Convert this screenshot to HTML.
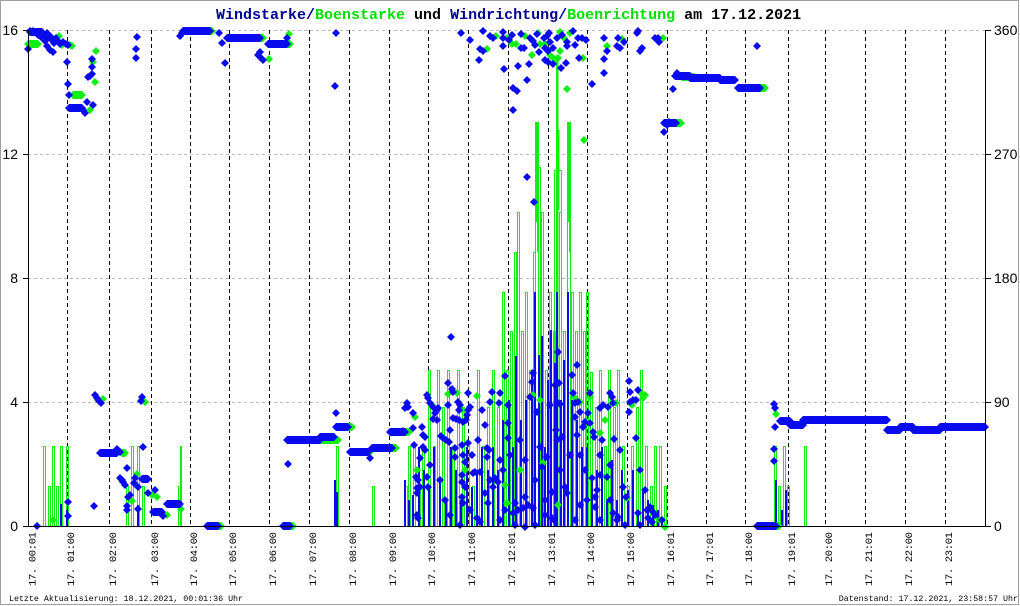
<!DOCTYPE html>
<html><head><meta charset="utf-8"><style>
html,body{margin:0;padding:0;background:#fff;}
svg{display:block;}
.m{font-family:"Liberation Mono",monospace;}
.s{font-family:"Liberation Sans",sans-serif;}
</style></head><body>
<svg width="1020" height="606" viewBox="0 0 1020 606" xmlns="http://www.w3.org/2000/svg">
<defs>
<marker id="mb" viewBox="-5 -5 10 10" refX="0" refY="0" markerWidth="10" markerHeight="10" markerUnits="userSpaceOnUse" overflow="visible"><path d="M-4 0L0-4 4 0 0 4z" fill="#0a0aee"/></marker>
<marker id="mg" viewBox="-5 -5 10 10" refX="0" refY="0" markerWidth="10" markerHeight="10" markerUnits="userSpaceOnUse" overflow="visible"><path d="M-4 0L0-4 4 0 0 4z" fill="#11ee11"/></marker>
</defs>
<rect x="0" y="0" width="1020" height="606" fill="#fff"/>
<rect x="0.5" y="0.5" width="1018" height="604" fill="none" stroke="#a0a0a0"/>

<text class="m" x="216" y="19" font-size="15" font-weight="bold"><tspan fill="#000090">Windstarke/</tspan><tspan fill="#00e000">Boenstarke</tspan><tspan fill="#000"> und </tspan><tspan fill="#000090">Windrichtung/</tspan><tspan fill="#00e000">Boenrichtung</tspan><tspan fill="#000"> am 17.12.2021</tspan></text>

<path d="M28 30.5H985M28 154.5H985M28 278.5H985M28 402.5H985" stroke="#bbb" stroke-dasharray="3 3" fill="none"/>
<path d="M67.5 30V526M109.5 30V526M151.5 30V526M190.5 30V526M229.5 30V526M269.5 30V526M309.5 30V526M349.5 30V526M389.5 30V526M428.5 30V526M468.5 30V526M508.5 30V526M548.5 30V526M587.5 30V526M627.5 30V526M667.5 30V526M706.5 30V526M745.5 30V526M788.5 30V526M825.5 30V526M865.5 30V526M905.5 30V526M945.5 30V526" stroke="#000" stroke-dasharray="4 3" fill="none"/>

<!-- green gust bars (outlined) -->
<path fill="none" stroke="#11ee11" stroke-width="1" d="
M43.5 526V446.5H45.5V526M48.5 526V486.5H50.5V526M52.5 526V446.5H54.5V526M56.5 526V486.5H58.5V526M60.5 526V446.5H62.5V526M66.5 526V446.5H68.5V526
M126.5 526V486.5H128.5V526M131.5 526V446.5H133.5V526M137.5 526V446.5H139.5V526M142.5 526V486.5H144.5V526M178.5 526V486.5H180.5V526M180.5 526V446.5H181.5V526
M336.5 526V446.5H338.5V526M372.5 526V486.5H374.5V526M408.5 526V446.5H410.5V526
M405.5 526V486.5H407.5V526M413.5 526V446.5H415.5V526M418.5 526V486.5H420.5V526M422.5 526V446.5H424.5V526M428.5 526V370.5H430.5V526M433.5 526V446.5H435.5V526M437.5 526V370.5H439.5V526M442.5 526V407.5H444.5V526M447.5 526V370.5H449.5V526M452.5 526V446.5H454.5V526M457.5 526V370.5H459.5V526M462.5 526V407.5H464.5V526M467.5 526V446.5H469.5V526M472.5 526V486.5H474.5V526M477.5 526V370.5H479.5V526M482.5 526V446.5H484.5V526M487.5 526V407.5H489.5V526M492.5 526V370.5H494.5V526M497.5 526V407.5H499.5V526
M502.5 526V292.5H504.5V526M506.5 526V370.5H508.5V526M510.5 526V331.5H512.5V526M514.5 526V252.5H516.5V526M517.5 526V212.5H519.5V526M521.5 526V331.5H523.5V526M525.5 526V292.5H527.5V526M529.5 526V370.5H531.5V526M533.5 526V252.5H535.5V526M535.5 526V122.5H538.5V526M538.5 526V167.5H540.5V526M541.5 526V212.5H543.5V526M545.5 526V370.5H547.5V526M549.5 526V292.5H551.5V526M553.5 526V331.5H555.5V526M554.5 526V170.5H561.5V526M559.5 526V212.5H561.5V526M563.5 526V331.5H565.5V526M567.5 526V122.5H570.5V526M571.5 526V292.5H573.5V526M575.5 526V331.5H577.5V526M579.5 526V292.5H581.5V526M583.5 526V331.5H585.5V526M586.5 526V292.5H588.5V526
M590.5 526V372.5H592.5V526M595.5 526V407.5H597.5V526M599.5 526V370.5H601.5V526M604.5 526V446.5H606.5V526M608.5 526V370.5H610.5V526M613.5 526V407.5H615.5V526M617.5 526V370.5H619.5V526M622.5 526V446.5H624.5V526M627.5 526V486.5H629.5V526M631.5 526V446.5H633.5V526M636.5 526V407.5H638.5V526M640.5 526V370.5H642.5V526M645.5 526V446.5H647.5V526M650.5 526V486.5H652.5V526M654.5 526V446.5H656.5V526M659.5 526V446.5H661.5V526M664.5 526V486.5H666.5V526
M774.5 526V446.5H776.5V526M778.5 526V486.5H780.5V526M783.5 526V446.5H785.5V526M787.5 526V486.5H789.5V526M804.5 526V446.5H806.5V526"/>
<path fill="#11ee11" d="M556 60h2.5v466h-2.5zM536 122h2v100h-2zM568 122h2v100h-2zM537 167h2v85h-2zM569 167h2v85h-2zM558 130h1.5v80h-1.5z"/>

<!-- blue wind bars -->
<path fill="none" stroke="#0a0aee" stroke-width="2" d="
M61 526V504M67 526V510M138 526V505M335 526V480M337 526V492M776 526V480M782 526V510M786 526V490
M405 526V480M409 526V500M413 526V495M419 526V447M424 526V470M429 526V487M434 526V447M440 526V480M446 526V500M451 526V447M456 526V470M461 526V500M467 526V447M472 526V487M477 526V470M482 526V447M488 526V470M493 526V447M498 526V470M503 526V420M509 526V400M513 526V447M516 526V356M521 526V420M526 526V400M532 526V370M535 526V292M539 526V355M542 526V336M545 526V447M548 526V380M551 526V330M555 526V363M557 526V292M561 526V400M564 526V360M568 526V292M572 526V400M577 526V420M582 526V447M587 526V447M592 526V480M597 526V470M602 526V447M607 526V500M612 526V460M617 526V500M622 526V470M628 526V490M633 526V470M638 526V510M643 526V490M648 526V500M653 526V505M658 526V510M662 526V518"/>

<!-- green direction runs -->
<path fill="#11ee11" d="M24 44l4-4H38l4 4-4 4H28zM69 95l4-4H82l4 4-4 4H73zM118 453l4-4H125l4 4-4 4H122zM205 526l4-4H221l4 4-4 4H209zM283 526l4-4H293l4 4-4 4H287zM286 440l4-4H338l4 4-4 4H290zM338 427l4-4H352l4 4-4 4H342zM352 452l4-4H370l4 4-4 4H356zM374 448l4-4H396l4 4-4 4H378zM392 432l4-4H409l4 4-4 4H396zM666 123l4-4H681l4 4-4 4H670zM678 77l4-4H694l4 4-4 4H682zM742 88l4-4H765l4 4-4 4H746zM759 526l4-4H779l4 4-4 4H763zM184 31l4-4H212l4 4-4 4H188zM228 38l4-4H263l4 4-4 4H232zM270 44l4-4H290l4 4-4 4H274z"/>
<polyline fill="none" stroke="none" marker-start="url(#mg)" marker-mid="url(#mg)" marker-end="url(#mg)" points="59,36 70,45 62,45 90,110 96,51 95,82 93,62 262,38 269,59 289,34 487,49 496,36 507,38 512,44 516,44 532,55 538,33 540,44 556,59 558,58 560,32 564,38 560,51 567,89 570,33 583,58 607,46 622,39 663,38 525,36 545,44 550,55 553,58 584,140 103,399 145,402 137,474 132,501 152,495 157,497 167,515 181,509 53,520 415,417 432,405 417,470 457,393 462,410 477,396 465,470 505,485 507,503 543,463 533,395 540,400 575,398 580,402 600,433 616,403 627,498 640,392 643,398 660,520 665,527 567,493 776,414 558,505 40,34 72,46 98,400 448,394 520,470 590,397 605,420 632,405 645,395"/>

<!-- blue direction runs -->
<path fill="#0a0aee" d="M65 108l4-4H82l4 4-4 4H69zM179 31l4-4H210l4 4-4 4H183zM223 38l4-4H260l4 4-4 4H227zM264 44l4-4H287l4 4-4 4H268zM660 123l4-4H676l4 4-4 4H664zM671 76l4-4H690l4 4-4 4H675zM686 78l4-4H720l4 4-4 4H690zM716 80l4-4H735l4 4-4 4H720zM734 88l4-4H760l4 4-4 4H738zM26 32l4-4H42l4 4-4 4H30zM96 453l4-4H117l4 4-4 4H100zM138 479l4-4H148l4 4-4 4H142zM149 512l4-4H162l4 4-4 4H153zM163 504l4-4H180l4 4-4 4H167zM203 526l4-4H218l4 4-4 4H207zM279 526l4-4H290l4 4-4 4H283zM283 440l4-4H320l4 4-4 4H287zM316 437l4-4H334l4 4-4 4H320zM332 427l4-4H348l4 4-4 4H336zM346 452l4-4H368l4 4-4 4H350zM368 448l4-4H392l4 4-4 4H372zM386 432l4-4H405l4 4-4 4H390zM753 526l4-4H776l4 4-4 4H757zM776 421l4-4H790l4 4-4 4H780zM786 425l4-4H803l4 4-4 4H790zM799 420l4-4H887l4 4-4 4H803zM883 430l4-4H900l4 4-4 4H887zM896 427l4-4H913l4 4-4 4H900zM909 430l4-4H940l4 4-4 4H913zM936 427l4-4H985l4 4-4 4H940z"/>
<polyline fill="none" stroke="none" marker-start="url(#mb)" marker-mid="url(#mb)" marker-end="url(#mb)" points="28,49 30,31 33,31 36,32 38,35 41,37 44,35 47,33 48,38 45,41 50,36 52,40 54,43 56,38 58,41 60,44 63,42 66,44 68,45 50,50 53,52 47,46 67,62 68,84 69,95 83,110 85,113 87,102 93,105 92,59 92,67 88,77 90,76 92,74 137,37 136,49 136,58 180,36 182,33 219,33 222,43 225,63 258,55 261,58 263,60 260,52 287,38 336,33 335,86 461,33 483,31 493,38 503,32 503,38 503,46 480,49 483,51 479,60 504,69 521,34 521,48 524,48 518,66 529,64 527,80 513,88 517,91 513,110 530,38 533,41 537,34 539,52 544,38 547,36 549,33 545,48 548,51 545,60 548,62 553,64 553,48 557,38 567,42 567,46 561,68 566,63 573,31 578,38 582,38 579,58 592,84 604,38 607,51 604,59 604,73 618,38 617,46 620,48 624,42 638,31 637,33 642,48 640,51 655,38 658,38 659,42 673,89 667,125 669,122 664,132 527,177 534,202 451,337 470,40 490,36 509,40 512,35 535,45 550,42 562,35 575,45 586,40 677,73 757,46 37,526 95,395 97,398 99,401 101,403 142,397 141,401 117,449 120,452 143,447 127,468 120,478 122,480 123,482 125,485 135,478 134,483 138,487 130,495 128,497 127,506 127,510 138,509 148,493 155,490 163,516 94,506 68,502 68,516 288,464 336,413 370,458 405,408 407,403 408,407 413,413 403,431 413,428 422,427 423,435 425,437 414,445 423,447 425,450 420,458 427,395 428,398 430,403 433,407 437,410 435,413 438,408 433,419 437,420 416,477 418,480 417,488 420,487 417,493 427,477 428,487 417,515 418,518 448,383 452,389 453,392 448,405 458,402 460,405 459,410 453,418 456,419 459,420 450,430 463,422 466,420 441,436 443,438 446,440 449,442 455,448 462,445 468,443 455,457 463,455 472,455 465,462 462,475 462,482 465,487 462,497 463,503 475,472 473,473 480,472 477,518 480,522 468,393 468,410 467,415 470,407 492,392 490,402 500,393 505,376 499,403 508,405 508,423 508,438 495,478 498,482 487,448 489,450 487,457 490,480 485,493 488,503 493,487 515,503 518,510 513,513 523,508 525,497 528,505 533,508 515,525 525,527 530,397 533,373 532,382 537,412 540,447 542,467 547,457 550,405 558,352 555,385 559,383 557,402 560,404 556,430 557,440 552,492 552,518 554,520 562,437 565,487 567,493 573,393 577,365 572,375 575,403 578,402 580,412 575,417 577,435 583,427 585,422 580,455 590,393 588,413 590,423 594,437 593,432 602,440 600,408 603,405 608,407 610,393 612,397 613,403 614,439 607,477 600,475 592,478 597,490 595,497 587,500 595,507 613,513 617,520 618,517 623,487 626,497 629,381 630,392 629,412 630,402 633,400 636,400 638,390 636,438 638,513 647,510 650,507 653,512 655,515 648,518 652,522 662,520 482,410 485,425 478,440 500,460 503,470 510,455 520,440 525,460 535,480 545,500 560,470 570,455 585,470 600,455 610,465 620,450 640,470 645,490 430,465 440,480 445,500 450,515 460,525 470,510 500,520 505,510 535,525 545,515 575,520 580,505 600,520 610,500 625,525 640,525 774,404 775,408 774,449 774,461 775,427"/>

<path d="M28.5 30V527M985.5 30V527M23 526.5H991M23 30.5h5M23 154.5h5M23 278.5h5M23 402.5h5M985 30.5h6M985 154.5h6M985 278.5h6M985 402.5h6" stroke="#000" fill="none"/>

<g class="s" font-size="14" fill="#000">
<text x="18" y="35" text-anchor="end">16</text>
<text x="18" y="159" text-anchor="end">12</text>
<text x="18" y="283" text-anchor="end">8</text>
<text x="18" y="407" text-anchor="end">4</text>
<text x="18" y="531" text-anchor="end">0</text>
<text x="994" y="35">360</text>
<text x="994" y="159">270</text>
<text x="994" y="283">180</text>
<text x="994" y="407">90</text>
<text x="994" y="531">0</text>
</g>

<g class="m" font-size="10.5" fill="#000">
<text transform="translate(35.5,586) rotate(-90)" textLength="54">17. 00:01</text>
<text transform="translate(74,586) rotate(-90)" textLength="54">17. 01:00</text>
<text transform="translate(116,586) rotate(-90)" textLength="54">17. 02:00</text>
<text transform="translate(158,586) rotate(-90)" textLength="54">17. 03:00</text>
<text transform="translate(197,586) rotate(-90)" textLength="54">17. 04:00</text>
<text transform="translate(236,586) rotate(-90)" textLength="54">17. 05:00</text>
<text transform="translate(276,586) rotate(-90)" textLength="54">17. 06:00</text>
<text transform="translate(316,586) rotate(-90)" textLength="54">17. 07:00</text>
<text transform="translate(356,586) rotate(-90)" textLength="54">17. 08:00</text>
<text transform="translate(396,586) rotate(-90)" textLength="54">17. 09:00</text>
<text transform="translate(435,586) rotate(-90)" textLength="54">17. 10:00</text>
<text transform="translate(475,586) rotate(-90)" textLength="54">17. 11:00</text>
<text transform="translate(515,586) rotate(-90)" textLength="54">17. 12:01</text>
<text transform="translate(555,586) rotate(-90)" textLength="54">17. 13:01</text>
<text transform="translate(594,586) rotate(-90)" textLength="54">17. 14:00</text>
<text transform="translate(634,586) rotate(-90)" textLength="54">17. 15:00</text>
<text transform="translate(674,586) rotate(-90)" textLength="54">17. 16:01</text>
<text transform="translate(713,586) rotate(-90)" textLength="54">17. 17:01</text>
<text transform="translate(752,586) rotate(-90)" textLength="54">17. 18:00</text>
<text transform="translate(795,586) rotate(-90)" textLength="54">17. 19:01</text>
<text transform="translate(832,586) rotate(-90)" textLength="54">17. 20:00</text>
<text transform="translate(872,586) rotate(-90)" textLength="54">17. 21:01</text>
<text transform="translate(912,586) rotate(-90)" textLength="54">17. 22:00</text>
<text transform="translate(952,586) rotate(-90)" textLength="54">17. 23:01</text>
</g>

<text class="m" x="9" y="601" font-size="8.3" fill="#000">Letzte Aktualisierung: 18.12.2021, 00:01:36 Uhr</text>
<text class="m" x="1018" y="601" font-size="8.3" fill="#000" text-anchor="end">Datenstand: 17.12.2021, 23:58:57 Uhr</text>
</svg>
</body></html>
